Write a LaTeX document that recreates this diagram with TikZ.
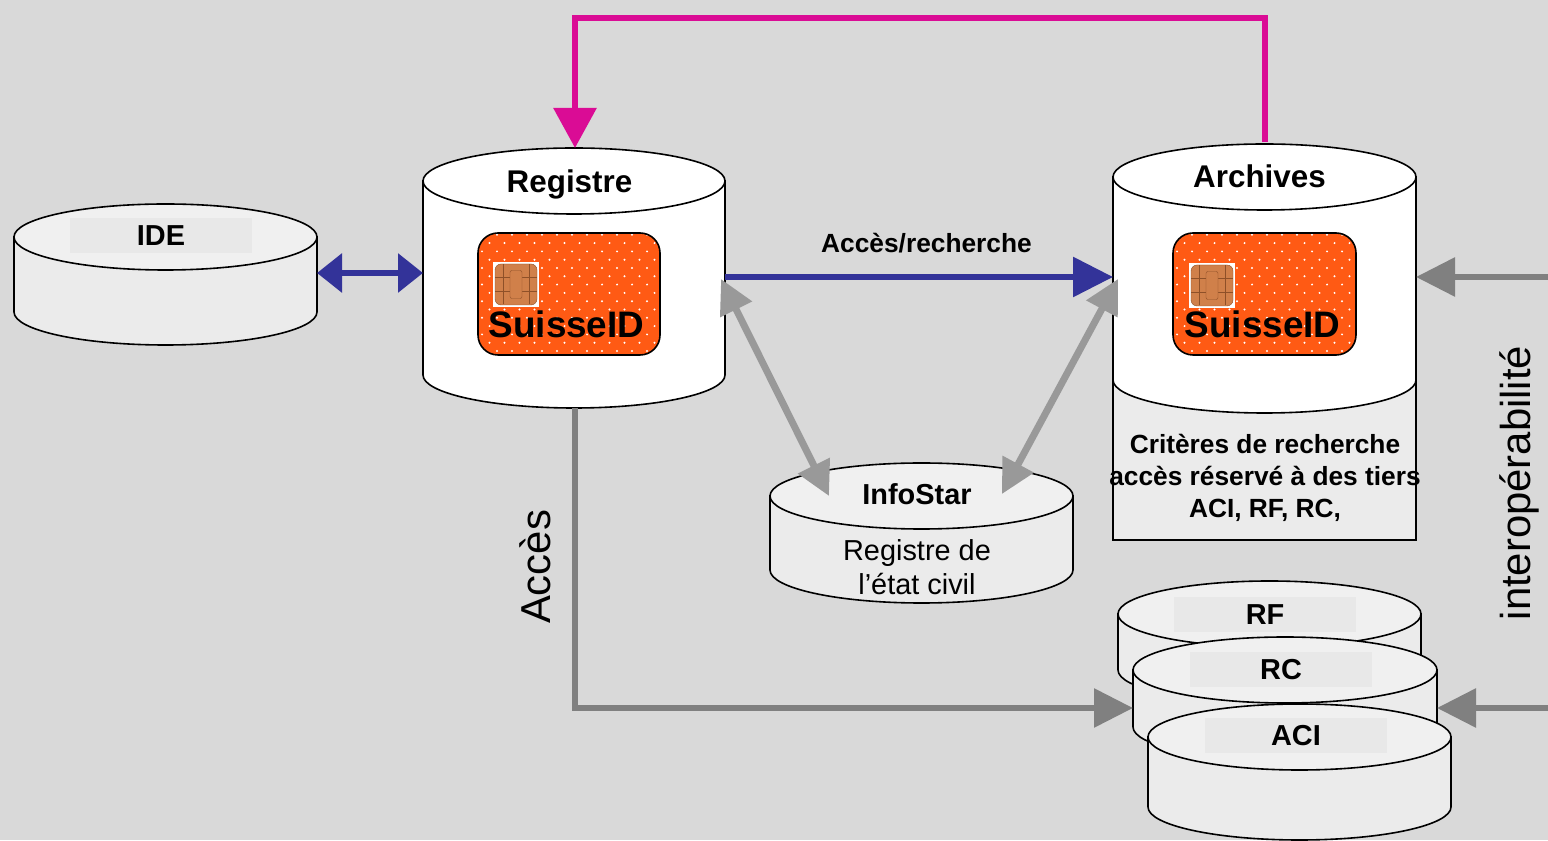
\documentclass[tikz,border=0pt]{standalone}
\usepackage{fontspec}
\setmainfont{Liberation Sans}
\usetikzlibrary{arrows.meta}
\definecolor{bgcol}{HTML}{D9D9D9}
\definecolor{dbgray}{HTML}{EBEBEB}
\definecolor{dbtop}{HTML}{F0F0F0}
\definecolor{tagcol}{HTML}{E8E8E8}
\definecolor{cardcol}{HTML}{FF5A14}
\definecolor{chipcol}{HTML}{D0804A}
\definecolor{chipline}{HTML}{8E5028}
\definecolor{linkblue}{HTML}{333399}
\definecolor{linkpink}{HTML}{DA0C95}
\definecolor{linkgray}{HTML}{999999}
\definecolor{linkdark}{HTML}{808080}
% cylinder: centre x, top y, bottom y, half width, body fill, top fill
\newcommand{\drum}[6]{%
  \filldraw[fill=#5, line width=1.6bp] ({#1-#4},#2) -- ({#1-#4},#3)
    arc[start angle=180, end angle=360, x radius=#4, y radius=33] -- ({#1+#4},#2) -- cycle;
  \filldraw[fill=#6, line width=1.6bp] (#1,#2) ellipse[x radius=#4, y radius=33];
}
\begin{document}
\begin{tikzpicture}[x=1bp,y=1bp,
  title/.style={font=\bfseries\fontsize{31.5}{36}\selectfont, inner sep=0pt},
  dbname/.style={font=\bfseries\fontsize{29}{34}\selectfont, inner sep=0pt},
  dbtag/.style={dbname, fill=tagcol, minimum width=182bp, minimum height=35bp},
  idtext/.style={font=\bfseries\fontsize{37}{42}\selectfont, inner sep=0pt},
  linktext/.style={font=\bfseries\fontsize{26.4}{30}\selectfont, inner sep=0pt},
  crit/.style={font=\bfseries\fontsize{26.4}{32.5}\selectfont, align=center, inner sep=0pt},
  civil/.style={font=\fontsize{29}{34}\selectfont, align=center, inner sep=0pt},
  sidetext/.style={font=\fontsize{42}{48}\selectfont, rotate=90, inner sep=0pt},
  card/.style={draw, line width=1.6bp, rounded corners=20bp, fill=cardcol,
    minimum width=182bp, minimum height=122bp, inner sep=0pt,
    path picture={
      \foreach \r in {0,...,14} {\foreach \c in {0,...,12} {
        \fill[white] ([shift={({4+15*\c+7.5*mod(\r,2)},{4+8.3*\r})}]path picture bounding box.south west) circle[radius=1.1bp];
      }}
    }},
  chip/.style={fill=white, minimum width=46bp, minimum height=45bp, inner sep=0pt,
    path picture={
      \filldraw[fill=chipcol, draw=chipline, rounded corners=6bp]
        ([shift={(2,2)}]path picture bounding box.south west) rectangle ([shift={(-2,-2)}]path picture bounding box.north east);
      \draw[chipline, line width=0.8bp]
        ([shift={(-21,-7)}]path picture bounding box.center) -- ++(42,0)
        ([shift={(-21,7)}]path picture bounding box.center) -- ++(42,0)
        ([shift={(-13,-20)}]path picture bounding box.center) -- ++(0,40)
        ([shift={(13,-20)}]path picture bounding box.center) -- ++(0,40);
      \filldraw[fill=chipcol, draw=chipline, rounded corners=2bp]
        ([shift={(-6,-14)}]path picture bounding box.center) rectangle ++(12,28);
    }},
  pinklink/.style={draw=linkpink, line width=6bp, -{Triangle[width=42bp,length=40bp]}},
  bluelink/.style={draw=linkblue, line width=6bp, -{Triangle[width=39bp,length=40bp]}},
  bluedbl/.style={draw=linkblue, line width=6bp, {Triangle[width=38bp,length=25bp]}-{Triangle[width=38bp,length=25bp]}},
  graydbl/.style={draw=linkgray, line width=7bp, {Triangle[width=34bp,length=34bp]}-{Triangle[width=34bp,length=34bp]}},
  darklink/.style={draw=linkdark, line width=6bp, -{Triangle[width=38bp,length=39bp]}}]
  \useasboundingbox (0,0) rectangle (1548,840);
  \fill[bgcol] (0,0) rectangle (1548,840);
  %% databases
  \drum{165.5}{603}{528}{151.5}{dbgray}{dbtop}
  \drum{574}{659}{465}{151}{white}{white}
  \filldraw[fill=dbgray, line width=1.6bp] (1113,300) rectangle (1416,460);
  \drum{1264.5}{663}{460}{151.5}{white}{white}
  \drum{921.5}{344}{270}{151.5}{dbgray}{dbtop}
  \drum{1269.5}{226}{170}{151.5}{dbgray}{dbtop}
  \drum{1285}{170}{113}{152}{dbgray}{dbtop}
  \drum{1299.5}{103}{33}{151.5}{dbgray}{dbtop}
  %% texts and cards
  \node (IDE) [dbtag] at (161,604.5) {IDE};
  \node (Registre) [title, anchor=base] at (569.5,647) {Registre};
  \node (Archives) [title, anchor=base] at (1259.5,652) {Archives};
  \node (RegCard) [card] at (569,546) {};
  \node (ArcCard) [card, minimum width=183bp] at (1264.5,546) {};
  \node (RegChip) [chip] at (516,555.5) {};
  \node (ArcChip) [chip] at (1212,554.5) {};
  \node (RegID) [idtext, anchor=base] at (566.5,502) {SuisseID};
  \node (ArcID) [idtext, anchor=base] at (1262.5,502) {SuisseID};
  \node (Criteres) [crit] at (1265,362) {Critères de recherche\\accès réservé à des tiers\\ACI, RF, RC,};
  \node (InfoStar) [dbname, anchor=base] at (917,335) {InfoStar};
  \node (Civil) [civil] at (917,272.5) {Registre de\\l’état civil};
  \node (RF) [dbtag] at (1265,225.5) {RF};
  \node (RC) [dbtag] at (1281,170) {RC};
  \node (ACI) [dbtag] at (1296,104.5) {ACI};
  \node (AccRech) [linktext, anchor=base] at (926.5,587) {Accès/recherche};
  \node (Acces) [sidetext] at (535,273) {Accès};
  \node (Interop) [sidetext] at (1519,357) {interopérabilité};
  %% connection points
  \coordinate (ArcTop) at (1265,698);
  \coordinate (RegTop) at (575,692);
  \coordinate (IDEE) at (317,567);
  \coordinate (RegW) at (423,567);
  \coordinate (RegE) at (725,563);
  \coordinate (ArcW) at (1113,563);
  \coordinate (RegSE) at (721,561);
  \coordinate (InfoNW) at (829,344);
  \coordinate (ArcSW) at (1118,561);
  \coordinate (InfoNE) at (1002,346);
  \coordinate (RegBot) at (575,432);
  \coordinate (RCW) at (1133,132);
  \coordinate (ArcE) at (1416,563);
  \coordinate (RCE) at (1437,132);
  \coordinate (EdgeA) at (1548,563);
  \coordinate (EdgeB) at (1548,132);
  %% links
  \draw [pinklink] (ArcTop) -- ++(0,124) -| (RegTop);
  \draw [bluedbl] (IDEE) -- (RegW);
  \draw [bluelink] (RegE) -- (ArcW);
  \draw [graydbl] (RegSE) -- (InfoNW);
  \draw [graydbl] (ArcSW) -- (InfoNE);
  \draw [darklink] (RegBot) |- (RCW);
  \draw [darklink] (EdgeA) -- (ArcE);
  \draw [darklink] (EdgeB) -- (RCE);
\end{tikzpicture}
\end{document}
